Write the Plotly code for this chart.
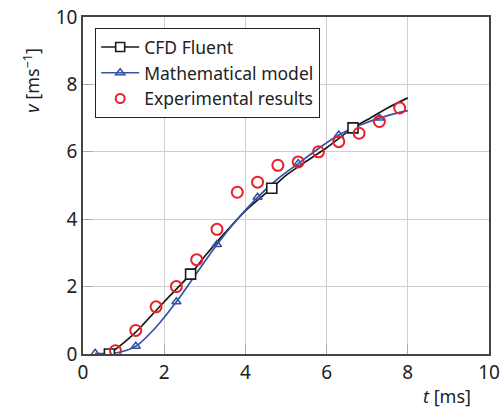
import plotly.graph_objects as go

# CFD Fluent curve (sampled along the curve) and its marked points
cfd_t = [0.65, 1.0, 1.3, 1.5, 2.0, 2.65, 3.0, 3.5, 4.0, 4.65, 5.0, 5.5, 6.0, 6.65, 7.0, 7.5, 8.0]
cfd_v = [0.0, 0.33, 0.65, 0.9, 1.55, 2.37, 2.9, 3.6, 4.25, 4.92, 5.3, 5.72, 6.12, 6.71, 6.95, 7.3, 7.6]
cfd_mark_t = [0.65, 2.65, 4.65, 6.65]
cfd_mark_v = [0.0, 2.37, 4.92, 6.71]

# Mathematical model curve and its marked points
model_t = [0.3, 0.8, 1.3, 1.8, 2.3, 2.8, 3.3, 3.8, 4.3, 4.8, 5.3, 5.8, 6.3, 6.8, 7.3, 7.8, 8.0]
model_v = [0.02, 0.03, 0.23, 0.8, 1.55, 2.4, 3.25, 4.0, 4.65, 5.2, 5.65, 6.1, 6.5, 6.78, 7.0, 7.17, 7.22]
model_mark_t = [0.3, 1.3, 2.3, 3.3, 4.3, 5.3, 6.3, 7.3]
model_mark_v = [0.02, 0.23, 1.55, 3.25, 4.65, 5.65, 6.5, 7.0]

# Experimental results
exp_t = [0.8, 1.3, 1.8, 2.3, 2.8, 3.3, 3.8, 4.3, 4.8, 5.3, 5.8, 6.3, 6.8, 7.3, 7.8]
exp_v = [0.1, 0.7, 1.4, 2.0, 2.8, 3.7, 4.8, 5.1, 5.6, 5.7, 6.0, 6.3, 6.55, 6.9, 7.3]

x_ticks = [0, 2, 4, 6, 8, 10]
y_ticks = [0, 2, 4, 6, 8, 10]

BLACK = "#1a1a1a"
BLUE = "#3552a3"
RED = "#e8202a"
FONT = "Noto Sans"

fig = go.Figure()

# curves
fig.add_trace(go.Scatter(x=cfd_t, y=cfd_v, mode="lines", showlegend=False,
                         line=dict(color=BLACK, width=1.7, shape="spline", smoothing=0.8)))
fig.add_trace(go.Scatter(x=model_t, y=model_v, mode="lines", showlegend=False,
                         line=dict(color=BLUE, width=1.7, shape="spline", smoothing=0.8)))

# markers
fig.add_trace(go.Scatter(x=model_mark_t, y=model_mark_v, mode="markers", showlegend=False,
                         marker=dict(symbol="triangle-up-open", size=8, color=BLUE,
                                     line=dict(width=1.5, color=BLUE))))
fig.add_trace(go.Scatter(x=cfd_mark_t, y=cfd_mark_v, mode="markers", showlegend=False,
                         marker=dict(symbol="square", size=10, color="white",
                                     line=dict(width=1.6, color=BLACK))))
fig.add_trace(go.Scatter(x=exp_t, y=exp_v, mode="markers", showlegend=False,
                         marker=dict(symbol="circle-open", size=11, color=RED,
                                     line=dict(width=2, color=RED))))

# legend entries
fig.add_trace(go.Scatter(x=[None], y=[None], mode="lines+markers", name="CFD Fluent",
                         line=dict(color=BLACK, width=1.7),
                         marker=dict(symbol="square", size=9, color="white",
                                     line=dict(width=1.6, color=BLACK))))
fig.add_trace(go.Scatter(x=[None], y=[None], mode="lines+markers", name="Mathematical model",
                         line=dict(color=BLUE, width=1.7),
                         marker=dict(symbol="triangle-up-open", size=8, color=BLUE,
                                     line=dict(width=1.5, color=BLUE))))
fig.add_trace(go.Scatter(x=[None], y=[None], mode="markers", name="Experimental results",
                         marker=dict(symbol="circle-open", size=9, color=RED,
                                     line=dict(width=2, color=RED))))

axis_common = dict(
    showgrid=True, gridcolor="#cfcfcf", gridwidth=1,
    showline=True, linecolor="#444444", linewidth=1.5, mirror=True,
    ticks="inside", ticklen=10, tickcolor="#aaaaaa", tickwidth=1,
    zeroline=False, automargin=False,
    tickfont=dict(family=FONT, size=19, color="#222222"),
)

fig.update_xaxes(range=[0, 10], tickvals=x_ticks, **axis_common)
fig.update_yaxes(range=[0, 10], tickvals=y_ticks, **axis_common)

fig.update_layout(
    width=504, height=410,
    margin=dict(l=83, r=15, t=17, b=56),
    paper_bgcolor="white", plot_bgcolor="white",
    font=dict(family=FONT, color="#222222"),
    legend=dict(
        x=0.03, y=0.967, xanchor="left", yanchor="top",
        bgcolor="white", bordercolor="#222222", borderwidth=1,
        font=dict(family=FONT, size=17.5, color="#222222"),
        itemwidth=38, tracegroupgap=0,
    ),
    annotations=[
        dict(text="<i>v</i> [ms<sup>−1</sup>]", xref="paper", yref="paper",
             x=-0.126, y=0.813, textangle=-90, showarrow=False,
             xanchor="center", yanchor="middle",
             font=dict(family=FONT, size=18, color="#222222")),
        dict(text="<i>t</i> [ms]", xref="paper", yref="paper",
             x=0.96, y=-0.125, showarrow=False, xanchor="right", yanchor="middle",
             font=dict(family=FONT, size=18, color="#222222")),
    ],
)

fig.write_html("out.html")
